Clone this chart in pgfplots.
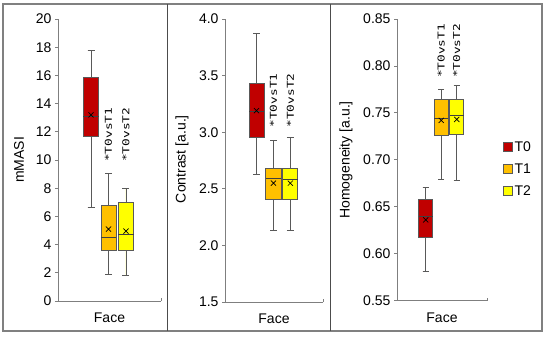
\documentclass[border=0pt]{standalone}
\usepackage{pgfplots}
\pgfplotsset{compat=1.18}
\usepgfplotslibrary{statistics}
\usepackage{graphicx}
\usepackage{fontspec}
\setmainfont{Liberation Sans}
\newfontfamily\annfont{DejaVu Sans Mono}
\definecolor{tzero}{HTML}{C00000}
\definecolor{tone}{HTML}{FFC000}
\definecolor{ttwo}{HTML}{FFFF00}
\definecolor{bordc}{HTML}{595959}
\definecolor{axc}{HTML}{7F7F7F}
\newcommand{\fs}{\fontsize{14}{16}\selectfont}
\tikzset{ann/.style={rotate=90, anchor=west, inner sep=0pt, font={\annfont\fontsize{9.5}{10}\selectfont}}}
\pgfplotsset{
  panel/.style={
    scale only axis,
    axis lines*=left,
    axis line style={draw=axc, line width=0.8pt},
    xtick=\empty,
    tick align=outside,
    major tick length=3pt,
    ytick style={draw=axc, line width=0.8pt},
    tick label style={font=\fs},
    /pgf/number format/assume math mode=true,
    label style={font=\fs},
    xlabel={Face},
    xlabel style={at={(axis description cs:0.5,-0.059)}, anchor=center},
    clip=false,
    boxplot/draw direction=y,
    boxplot/whisker extend=0.4,
    boxplot/every box/.style={draw=bordc, line width=0.9pt},
    boxplot/every whisker/.style={draw=bordc, line width=0.9pt},
    boxplot/every median/.style={draw=black!75, line width=0.9pt},
  },
  meanmark/.style={only marks, mark=x, mark size=3.6pt, mark options={draw=black, line width=0.7pt}},
}
\begin{document}
\begin{tikzpicture}
\useasboundingbox (0pt,0pt) rectangle (550pt,338pt);
\draw[draw=black!50, line width=1.2pt] (3pt,7pt) rectangle (542pt,334pt);
\draw[draw=black!70, line width=0.8pt] (167pt,7pt) -- (167pt,334pt);
\draw[draw=black!70, line width=0.8pt] (330pt,7pt) -- (330pt,334pt);

% Panel 1: mMASI
\begin{axis}[panel, at={(58pt,37pt)}, anchor=south west,
  width=103pt, height=282pt,
  xmin=-0.886, xmax=5.0, ymin=0, ymax=20,
  ytick={0,2,...,20},
  boxplot/box extend=0.86,
  ylabel={mMASI},
  ylabel style={at={(axis description cs:-0.379,0.5)}, anchor=center}]
\addplot[boxplot prepared={draw position=1, lower whisker=6.6, lower quartile=11.65, median=13.1, upper quartile=15.86, upper whisker=17.75}, fill=tzero, draw=bordc] coordinates {};
\addplot[boxplot prepared={draw position=2, lower whisker=1.87, lower quartile=3.6, median=4.52, upper quartile=6.78, upper whisker=9.03}, fill=tone, draw=bordc] coordinates {};
\addplot[boxplot prepared={draw position=3, lower whisker=1.83, lower quartile=3.6, median=4.7, upper quartile=6.98, upper whisker=8.0}, fill=ttwo, draw=bordc] coordinates {};
\addplot[meanmark] coordinates {(1,13.2) (2,5.1) (3,4.96)};
\node[ann] at (axis cs:2,9.86) {\scalebox{1.35}[1]{*T0vsT1}};
\node[ann] at (axis cs:3,9.86) {\scalebox{1.35}[1]{*T0vsT2}};
\draw[axc, line width=0.8pt] (rel axis cs:1,0) -- ++(0pt,3pt);
\end{axis}

% Panel 2: Contrast
\begin{axis}[panel, at={(225pt,36pt)}, anchor=south west,
  width=98pt, height=283pt,
  xmin=-0.864, xmax=4.93, ymin=1.5, ymax=4.0,
  ytick={1.5,2.0,...,4.0},
  yticklabel style={/pgf/number format/fixed, /pgf/number format/fixed zerofill, /pgf/number format/precision=1},
  boxplot/box extend=0.89,
  ylabel={Contrast [a.u.]},
  ylabel style={at={(axis description cs:-0.439,0.505)}, anchor=center}]
\addplot[boxplot prepared={draw position=1, lower whisker=2.63, lower quartile=2.955, median=3.18, upper quartile=3.43, upper whisker=3.87}, fill=tzero, draw=bordc] coordinates {};
\addplot[boxplot prepared={draw position=2, lower whisker=2.13, lower quartile=2.41, median=2.59, upper quartile=2.68, upper whisker=2.93}, fill=tone, draw=bordc] coordinates {};
\addplot[boxplot prepared={draw position=3, lower whisker=2.13, lower quartile=2.41, median=2.58, upper quartile=2.68, upper whisker=2.95}, fill=ttwo, draw=bordc] coordinates {};
\addplot[meanmark] coordinates {(1,3.19) (2,2.55) (3,2.55)};
\node[ann] at (axis cs:2,3.04) {\scalebox{1.35}[1]{*T0vsT1}};
\node[ann] at (axis cs:3,3.04) {\scalebox{1.35}[1]{*T0vsT2}};
\draw[axc, line width=0.8pt] (rel axis cs:1,0) -- ++(0pt,3pt);
\end{axis}

% Panel 3: Homogeneity
\begin{axis}[panel, at={(397pt,37.3pt)}, anchor=south west,
  width=90pt, height=281.7pt,
  xmin=-0.85, xmax=4.95, ymin=0.55, ymax=0.85,
  ytick={0.55,0.60,...,0.85},
  yticklabel style={/pgf/number format/fixed, /pgf/number format/fixed zerofill, /pgf/number format/precision=2},
  boxplot/box extend=0.9,
  ylabel={Homogeneity [a.u.]},
  ylabel style={at={(axis description cs:-0.567,0.5)}, anchor=center},
  legend style={at={(axis description cs:1.178,0.467)}, anchor=west, draw=none, fill=none, inner sep=0pt, font=\fs, row sep=8pt, nodes={inner sep=1.5pt}},
  legend cell align=left,
  legend image code/.code={\draw[#1] (0pt,-4.5pt) rectangle (9pt,4.5pt);}]
\addlegendimage{fill=tzero, draw=bordc, line width=0.9pt}
\addlegendentry{T0}
\addlegendimage{fill=tone, draw=bordc, line width=0.9pt}
\addlegendentry{T1}
\addlegendimage{fill=ttwo, draw=bordc, line width=0.9pt}
\addlegendentry{T2}
\addplot[boxplot prepared={draw position=1, lower whisker=0.581, lower quartile=0.617, median=0.640, upper quartile=0.658, upper whisker=0.671}, fill=tzero, draw=bordc] coordinates {};
\addplot[boxplot prepared={draw position=2, lower whisker=0.679, lower quartile=0.726, median=0.744, upper quartile=0.764, upper whisker=0.775}, fill=tone, draw=bordc] coordinates {};
\addplot[boxplot prepared={draw position=3, lower whisker=0.678, lower quartile=0.727, median=0.7475, upper quartile=0.764, upper whisker=0.779}, fill=ttwo, draw=bordc] coordinates {};
\addplot[meanmark] coordinates {(1,0.636) (2,0.742) (3,0.743)};
\node[ann] at (axis cs:2,0.787) {\scalebox{1.35}[1]{*T0vsT1}};
\node[ann] at (axis cs:3,0.787) {\scalebox{1.35}[1]{*T0vsT2}};
\draw[axc, line width=0.8pt] (rel axis cs:1,0) -- ++(0pt,3pt);
\end{axis}
\end{tikzpicture}
\end{document}
